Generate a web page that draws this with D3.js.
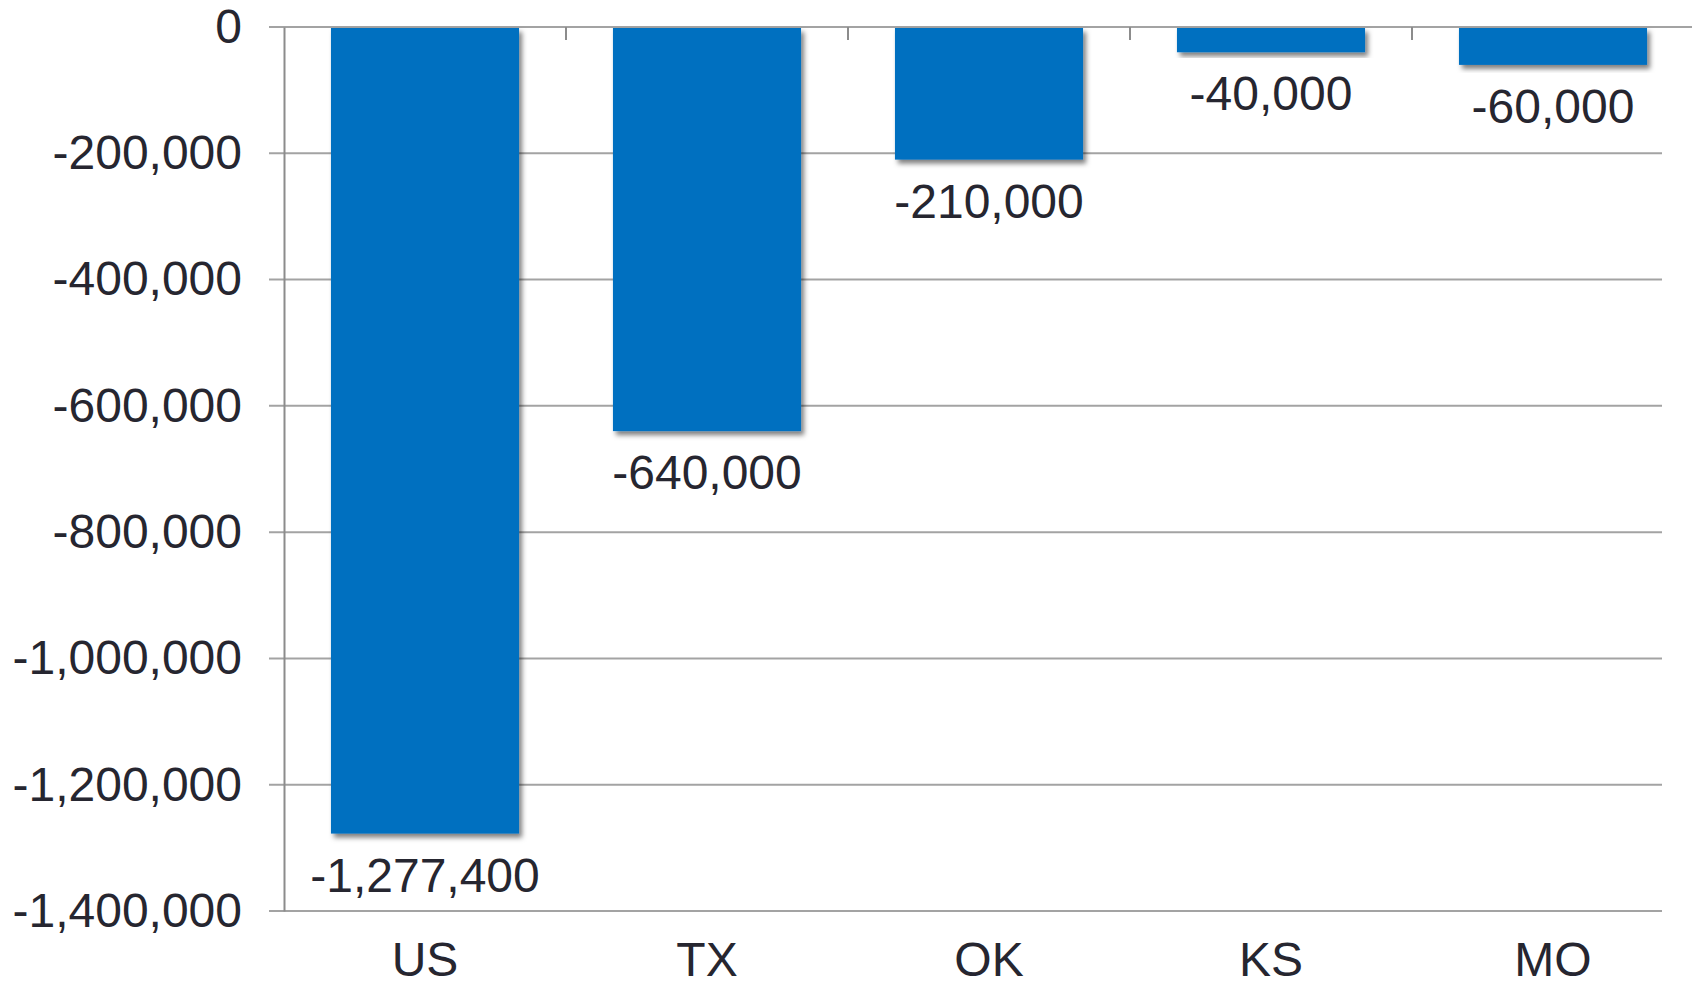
<!DOCTYPE html>
<html>
<head>
<meta charset="utf-8">
<script src="https://cdn.jsdelivr.net/npm/d3@7"></script>
<style>
  html, body { margin: 0; padding: 0; background: #fff; }
  svg { display: block; }
  text { font-family: "Liberation Sans", Arial, sans-serif; fill: #262630; }
</style>
</head>
<body>
<div id="chart"></div>
<script>
// --- data ---
const categories = ["US", "TX", "OK", "KS", "MO"];
const values = [-1277400, -640000, -210000, -40000, -60000];
const yTicks = [0, -200000, -400000, -600000, -800000, -1000000, -1200000, -1400000];

const width = 1692, height = 990;
const fontSize = 48;
// plain hyphen instead of d3's unicode minus, like the original
const fmt = d => d3.format(",")(d).replace("\u2212", "-");

const svg = d3.select("#chart").append("svg")
  .attr("width", width)
  .attr("height", height);

// soft shadow under the bars
const defs = svg.append("defs");
defs.append("filter")
  .attr("id", "shadow")
  .attr("x", "-10%").attr("y", "-10%")
  .attr("width", "130%").attr("height", "130%")
  .append("feDropShadow")
  .attr("dx", 3).attr("dy", 4)
  .attr("stdDeviation", 2.5)
  .attr("flood-color", "#000")
  .attr("flood-opacity", 0.5);

// --- scales ---
const y = d3.scaleLinear().domain([-1400000, 0]).range([911, 27]);
const x = d3.scaleBand().domain(categories).range([284, 1694])
  .paddingInner(0.333).paddingOuter(0.1665);

// --- gridlines ---
svg.append("g")
  .selectAll("line")
  .data(yTicks)
  .join("line")
  .attr("x1", 269)
  .attr("x2", d => d === 0 ? width : 1662)
  .attr("y1", d => y(d))
  .attr("y2", d => y(d))
  .attr("stroke", "#a3a3a3")
  .attr("stroke-width", 2);

// --- y axis ---
const yAxis = svg.append("g")
  .attr("transform", "translate(284,0)")
  .call(d3.axisLeft(y).tickValues(yTicks).tickFormat(fmt).tickSize(0).tickPadding(42));
yAxis.select(".domain")
  .attr("stroke", "#8c8c8c")
  .attr("stroke-width", 2);
yAxis.selectAll("text")
  .attr("font-size", fontSize)
  .attr("fill", "#262630");

// category tick marks hanging from the zero line
svg.append("g")
  .selectAll("line")
  .data(categories)
  .join("line")
  .attr("x1", d => x(d) + x.bandwidth() + x.step() * x.paddingInner() / 2)
  .attr("x2", d => x(d) + x.bandwidth() + x.step() * x.paddingInner() / 2)
  .attr("y1", y(0))
  .attr("y2", y(0) + 13)
  .attr("stroke", "#8c8c8c")
  .attr("stroke-width", 2);

// --- bars ---
svg.append("g")
  .selectAll("rect")
  .data(values)
  .join("rect")
  .attr("x", (d, i) => x(categories[i]))
  .attr("y", y(0) + 1)
  .attr("width", x.bandwidth())
  .attr("height", d => y(d) - y(0) - 1)
  .attr("fill", "#0070C0")
  .attr("filter", "url(#shadow)");

// --- value labels ---
svg.append("g")
  .selectAll("text")
  .data(values)
  .join("text")
  .attr("x", (d, i) => x(categories[i]) + x.bandwidth() / 2)
  .attr("y", d => y(d) + 58)
  .attr("text-anchor", "middle")
  .attr("font-size", fontSize)
  .text(d => fmt(d));

// --- category labels ---
svg.append("g")
  .selectAll("text")
  .data(categories)
  .join("text")
  .attr("x", d => x(d) + x.bandwidth() / 2)
  .attr("y", 976)
  .attr("text-anchor", "middle")
  .attr("font-size", fontSize)
  .text(d => d);
</script>
</body>
</html>
